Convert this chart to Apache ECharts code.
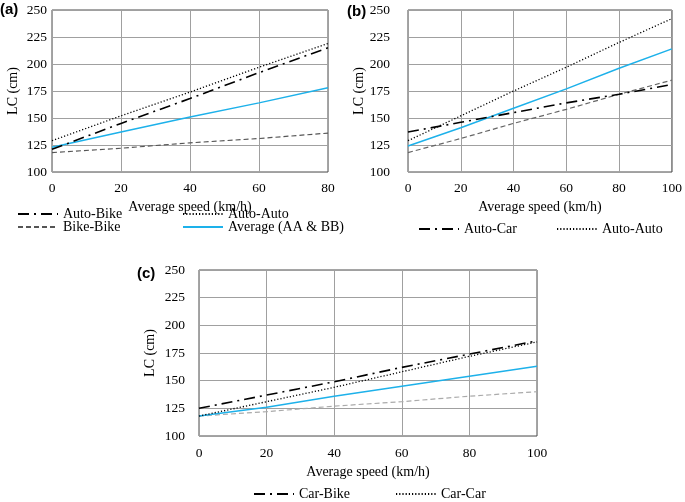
<!DOCTYPE html>
<html>
<head>
    <meta charset="UTF-8">
    <title>LC vs average speed</title>
    <script src="https://cdn.jsdelivr.net/npm/echarts@6/dist/echarts.min.js"></script>
    <style>
        html, body { margin: 0; padding: 0; background: #fff; }
        #main { width: 685px; height: 502px; }
    </style>
</head>
<body>
<div id="main"></div>
<script>
    // 数据 - panel (a)
    var speedA = [0, 20, 40, 60, 80];
    var aAutoBike = [121, 145, 168, 192, 215];
    var aAutoAuto = [129, 152, 174, 197, 219];
    var aBikeBike = [118, 122, 127, 131, 136];
    var aAverage = [123, 137, 151, 164, 178];

    // panel (b)
    var speedB = [0, 20, 40, 60, 80, 100];
    var bAutoCar = [137, 146, 155, 164, 172, 181];
    var bAutoAuto = [129, 152, 175, 197, 220, 242];
    var bDashed = [118, 131, 145, 158, 172, 185];
    var bAverage = [124, 141, 159, 177, 196, 214];

    // panel (c)
    var speedC = [0, 20, 40, 60, 80, 100];
    var cCarBike = [125, 137, 149, 162, 174, 186];
    var cCarCar = [118, 131, 144, 158, 172, 185];
    var cDashed = [118, 122, 127, 131, 136, 140];
    var cAverage = [118, 126, 136, 145, 154, 163];

    var yTicks = [100, 125, 150, 175, 200, 225, 250];

    var serif = 'Liberation Serif';
    var blue = '#1db1ea';

    function pairs(xs, ys) {
        var out = [];
        for (var i = 0; i < xs.length; i++) out.push([xs[i], ys[i]]);
        return out;
    }

    function xAx(idx, max, labelMargin, nameGap) {
        return {
            type: 'value', gridIndex: idx, min: 0, max: max, interval: 20,
            name: 'Average speed (km/h)', nameLocation: 'middle', nameGap: nameGap,
            nameTextStyle: { fontFamily: serif, fontSize: 14, color: '#000' },
            axisLine: { show: false }, axisTick: { show: false },
            axisLabel: { margin: labelMargin, fontFamily: serif, fontSize: 13.5, color: '#000' },
            splitLine: { show: true, lineStyle: { color: '#a0a0a0', width: 1 } }
        };
    }
    function yAx(idx, labelMargin, nameGap) {
        return {
            type: 'value', gridIndex: idx, min: yTicks[0], max: yTicks[yTicks.length - 1], interval: 25,
            name: 'LC (cm)', nameLocation: 'middle', nameGap: nameGap,
            nameTextStyle: { fontFamily: serif, fontSize: 14, color: '#000' },
            axisLine: { show: false }, axisTick: { show: false },
            axisLabel: { margin: labelMargin, fontFamily: serif, fontSize: 13.5, color: '#000' },
            splitLine: { show: true, lineStyle: { color: '#a0a0a0', width: 1 } }
        };
    }
    function line(name, idx, xs, ys, color, type, width) {
        return {
            name: name, type: 'line', xAxisIndex: idx, yAxisIndex: idx,
            data: pairs(xs, ys), symbol: 'none', smooth: false, silent: true,
            lineStyle: { color: color, type: type, width: width || 1.5 },
            itemStyle: { color: color }
        };
    }
    // legend: only the line sample, no circle
    function leg(name, left, top) {
        return {
            data: [name], left: left, top: top, itemWidth: 40, itemHeight: 10,
            selectedMode: false,
            itemStyle: { opacity: 0 },
            textStyle: { fontFamily: serif, fontSize: 14, color: '#000' }
        };
    }

    var dashDot = [11, 5, 2, 5];
    var dotted = [1.2, 2];
    var dashed = [5, 3];

    var myChart = echarts.init(document.getElementById('main'));
    myChart.setOption({
        animation: false,
        backgroundColor: '#fff',
        grid: [
            { left: 52, top: 10, width: 276, height: 162, show: true, borderColor: '#4a4a4a', borderWidth: 1 },
            { left: 408, top: 10, width: 265, height: 162, show: true, borderColor: '#4a4a4a', borderWidth: 1 },
            { left: 199, top: 270, width: 338, height: 166, show: true, borderColor: '#4a4a4a', borderWidth: 1 }
        ],
        xAxis: [xAx(0, 80, 9, 28), xAx(1, 100, 9, 28), xAx(2, 100, 10, 29)],
        yAxis: [yAx(0, 5, 32), yAx(1, 18, 41), yAx(2, 14, 42)],
        legend: [
            leg('Auto-Bike', 12, 202), leg('Auto-Auto', 177, 202),
            leg('Bike-Bike', 12, 215), leg('Average (AA & BB)', 177, 215),
            leg('Auto-Car', 413, 217), leg('Auto-Auto ', 551, 217),
            leg('Car-Bike', 248, 482), leg('Car-Car', 390, 482)
        ],
        graphic: [
            { type: 'text', left: 0, top: 2, style: { text: '(a)', font: 'bold 15px "Liberation Sans"', fill: '#000' } },
            { type: 'text', left: 347, top: 4, style: { text: '(b)', font: 'bold 15px "Liberation Sans"', fill: '#000' } },
            { type: 'text', left: 137, top: 266, style: { text: '(c)', font: 'bold 15px "Liberation Sans"', fill: '#000' } }
        ],
        series: [
            line('Bike-Bike', 0, speedA, aBikeBike, '#555', dashed, 1.2),
            line('Average (AA & BB)', 0, speedA, aAverage, blue, 'solid', 1.5),
            line('Auto-Auto', 0, speedA, aAutoAuto, '#000', dotted, 1.3),
            line('Auto-Bike', 0, speedA, aAutoBike, '#000', dashDot, 1.6),

            line('b-dashed', 1, speedB, bDashed, '#666', dashed, 1.2),
            line('b-average', 1, speedB, bAverage, blue, 'solid', 1.5),
            line('Auto-Auto ', 1, speedB, bAutoAuto, '#000', dotted, 1.3),
            line('Auto-Car', 1, speedB, bAutoCar, '#000', dashDot, 1.6),

            line('c-dashed', 2, speedC, cDashed, '#aaa', dashed, 1.2),
            line('c-average', 2, speedC, cAverage, blue, 'solid', 1.5),
            line('Car-Car', 2, speedC, cCarCar, '#000', dotted, 1.3),
            line('Car-Bike', 2, speedC, cCarBike, '#000', dashDot, 1.6)
        ]
    });
</script>
</body>
</html>
